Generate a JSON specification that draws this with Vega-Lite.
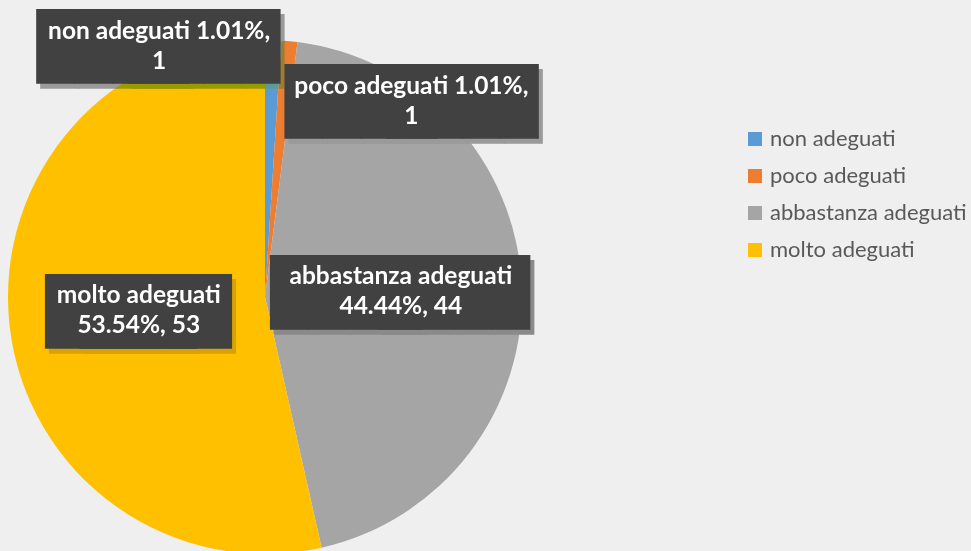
{
  "$schema": "https://vega.github.io/schema/vega-lite/v6.json",
  "width": 514,
  "height": 514,
  "autosize": {"type": "none"},
  "padding": {"left": 8, "top": 40, "right": 449, "bottom": 0},
  "background": "#efefef",
  "config": {"view": {"stroke": null}},
  "data": {
    "values": [
      {"categoria": "non adeguati", "valore": 1, "ord": 1, "etichetta": "non adeguati 1.01%,\n1"},
      {"categoria": "poco adeguati", "valore": 1, "ord": 2, "etichetta": "poco adeguati 1.01%,\n1"},
      {"categoria": "abbastanza adeguati", "valore": 44, "ord": 3, "etichetta": "abbastanza adeguati\n44.44%, 44"},
      {"categoria": "molto adeguati", "valore": 53, "ord": 4, "etichetta": "molto adeguati\n53.54%, 53"}
    ]
  },
  "encoding": {
    "theta": {"field": "valore", "type": "quantitative", "stack": true},
    "order": {"field": "ord", "type": "quantitative"}
  },
  "layer": [
    {
      "mark": {"type": "arc", "outerRadius": 257, "strokeWidth": 0},
      "encoding": {
        "color": {
          "field": "categoria",
          "type": "nominal",
          "scale": {
            "domain": ["non adeguati", "poco adeguati", "abbastanza adeguati", "molto adeguati"],
            "range": ["#5B9BD5", "#ED7D31", "#A5A5A5", "#FFC000"]
          },
          "legend": {
            "title": null,
            "orient": "none",
            "legendX": 736,
            "legendY": 88,
            "symbolType": "square",
            "symbolSize": 196,
            "symbolStrokeWidth": 0,
            "labelFont": "Lato",
            "labelFontSize": 22,
            "labelColor": "#595959",
            "labelLimit": 400,
            "rowPadding": 15,
            "labelOffset": 4
          }
        }
      }
    },
    {
      "mark": {"type": "text", "radius": 130, "font": "DejaVu Sans Mono", "fontSize": 63, "align": "left", "baseline": "middle", "dx": -228, "dy": -113, "color": "#9a9a9a", "blend": "darken"},
      "encoding": {"text": {"condition": {"test": "datum.categoria === 'non adeguati'", "value": "████"}, "value": ""}}
    },
    {
      "mark": {"type": "text", "radius": 130, "font": "DejaVu Sans Mono", "fontSize": 63, "align": "right", "baseline": "middle", "dx": 15, "dy": -113, "color": "#9a9a9a", "blend": "darken"},
      "encoding": {"text": {"condition": {"test": "datum.categoria === 'non adeguati'", "value": "████"}, "value": ""}}
    },
    {
      "mark": {"type": "text", "radius": 130, "font": "DejaVu Sans Mono", "fontSize": 63, "align": "left", "baseline": "middle", "dx": -232, "dy": -118, "color": "#414141"},
      "encoding": {"text": {"condition": {"test": "datum.categoria === 'non adeguati'", "value": "████"}, "value": ""}}
    },
    {
      "mark": {"type": "text", "radius": 130, "font": "DejaVu Sans Mono", "fontSize": 63, "align": "right", "baseline": "middle", "dx": 11, "dy": -118, "color": "#414141"},
      "encoding": {"text": {"condition": {"test": "datum.categoria === 'non adeguati'", "value": "████"}, "value": ""}}
    },
    {
      "mark": {"type": "text", "radius": 130, "font": "Lato", "fontSize": 24.5, "fontWeight": "bold", "lineHeight": 30, "lineBreak": "\n", "align": "center", "baseline": "middle", "dx": -110, "dy": -135, "color": "#ffffff"},
      "encoding": {"text": {"condition": {"test": "datum.categoria === 'non adeguati'", "field": "etichetta"}, "value": ""}}
    },
    {
      "mark": {"type": "text", "radius": 130, "font": "DejaVu Sans Mono", "fontSize": 63, "align": "left", "baseline": "middle", "dx": 12, "dy": -59, "color": "#9a9a9a", "blend": "darken"},
      "encoding": {"text": {"condition": {"test": "datum.categoria === 'poco adeguati'", "value": "████"}, "value": ""}}
    },
    {
      "mark": {"type": "text", "radius": 130, "font": "DejaVu Sans Mono", "fontSize": 63, "align": "right", "baseline": "middle", "dx": 265, "dy": -59, "color": "#9a9a9a", "blend": "darken"},
      "encoding": {"text": {"condition": {"test": "datum.categoria === 'poco adeguati'", "value": "████"}, "value": ""}}
    },
    {
      "mark": {"type": "text", "radius": 130, "font": "DejaVu Sans Mono", "fontSize": 63, "align": "left", "baseline": "middle", "dx": 8, "dy": -64, "color": "#414141"},
      "encoding": {"text": {"condition": {"test": "datum.categoria === 'poco adeguati'", "value": "████"}, "value": ""}}
    },
    {
      "mark": {"type": "text", "radius": 130, "font": "DejaVu Sans Mono", "fontSize": 63, "align": "right", "baseline": "middle", "dx": 261, "dy": -64, "color": "#414141"},
      "encoding": {"text": {"condition": {"test": "datum.categoria === 'poco adeguati'", "value": "████"}, "value": ""}}
    },
    {
      "mark": {"type": "text", "radius": 130, "font": "Lato", "fontSize": 24.5, "fontWeight": "bold", "lineHeight": 30, "lineBreak": "\n", "align": "center", "baseline": "middle", "dx": 134, "dy": -81, "color": "#ffffff"},
      "encoding": {"text": {"condition": {"test": "datum.categoria === 'poco adeguati'", "field": "etichetta"}, "value": ""}}
    },
    {
      "mark": {"type": "text", "radius": 130, "font": "DejaVu Sans Mono", "fontSize": 63, "align": "left", "baseline": "middle", "dx": -120, "dy": 9, "color": "#8a8a8a", "blend": "darken"},
      "encoding": {"text": {"condition": {"test": "datum.categoria === 'abbastanza adeguati'", "value": "████"}, "value": ""}}
    },
    {
      "mark": {"type": "text", "radius": 130, "font": "DejaVu Sans Mono", "fontSize": 63, "align": "right", "baseline": "middle", "dx": 139, "dy": 9, "color": "#8a8a8a", "blend": "darken"},
      "encoding": {"text": {"condition": {"test": "datum.categoria === 'abbastanza adeguati'", "value": "████"}, "value": ""}}
    },
    {
      "mark": {"type": "text", "radius": 130, "font": "DejaVu Sans Mono", "fontSize": 63, "align": "left", "baseline": "middle", "dx": -124, "dy": 4, "color": "#414141"},
      "encoding": {"text": {"condition": {"test": "datum.categoria === 'abbastanza adeguati'", "value": "████"}, "value": ""}}
    },
    {
      "mark": {"type": "text", "radius": 130, "font": "DejaVu Sans Mono", "fontSize": 63, "align": "right", "baseline": "middle", "dx": 135, "dy": 4, "color": "#414141"},
      "encoding": {"text": {"condition": {"test": "datum.categoria === 'abbastanza adeguati'", "value": "████"}, "value": ""}}
    },
    {
      "mark": {"type": "text", "radius": 130, "font": "Lato", "fontSize": 24.5, "fontWeight": "bold", "lineHeight": 30, "lineBreak": "\n", "align": "center", "baseline": "middle", "dx": 6, "dy": -14, "color": "#ffffff"},
      "encoding": {"text": {"condition": {"test": "datum.categoria === 'abbastanza adeguati'", "field": "etichetta"}, "value": ""}}
    },
    {
      "mark": {"type": "text", "radius": 130, "font": "DejaVu Sans Mono", "fontSize": 63, "align": "left", "baseline": "middle", "dx": -86, "dy": 8, "color": "#d9a200", "blend": "darken"},
      "encoding": {"text": {"condition": {"test": "datum.categoria === 'molto adeguati'", "value": "████"}, "value": ""}}
    },
    {
      "mark": {"type": "text", "radius": 130, "font": "DejaVu Sans Mono", "fontSize": 63, "align": "right", "baseline": "middle", "dx": 100, "dy": 8, "color": "#d9a200", "blend": "darken"},
      "encoding": {"text": {"condition": {"test": "datum.categoria === 'molto adeguati'", "value": "████"}, "value": ""}}
    },
    {
      "mark": {"type": "text", "radius": 130, "font": "DejaVu Sans Mono", "fontSize": 63, "align": "left", "baseline": "middle", "dx": -90, "dy": 3, "color": "#414141"},
      "encoding": {"text": {"condition": {"test": "datum.categoria === 'molto adeguati'", "value": "████"}, "value": ""}}
    },
    {
      "mark": {"type": "text", "radius": 130, "font": "DejaVu Sans Mono", "fontSize": 63, "align": "right", "baseline": "middle", "dx": 96, "dy": 3, "color": "#414141"},
      "encoding": {"text": {"condition": {"test": "datum.categoria === 'molto adeguati'", "value": "████"}, "value": ""}}
    },
    {
      "mark": {"type": "text", "radius": 130, "font": "Lato", "fontSize": 24.5, "fontWeight": "bold", "lineHeight": 30, "lineBreak": "\n", "align": "center", "baseline": "middle", "dx": 3, "dy": -15, "color": "#ffffff"},
      "encoding": {"text": {"condition": {"test": "datum.categoria === 'molto adeguati'", "field": "etichetta"}, "value": ""}}
    }
  ]
}
